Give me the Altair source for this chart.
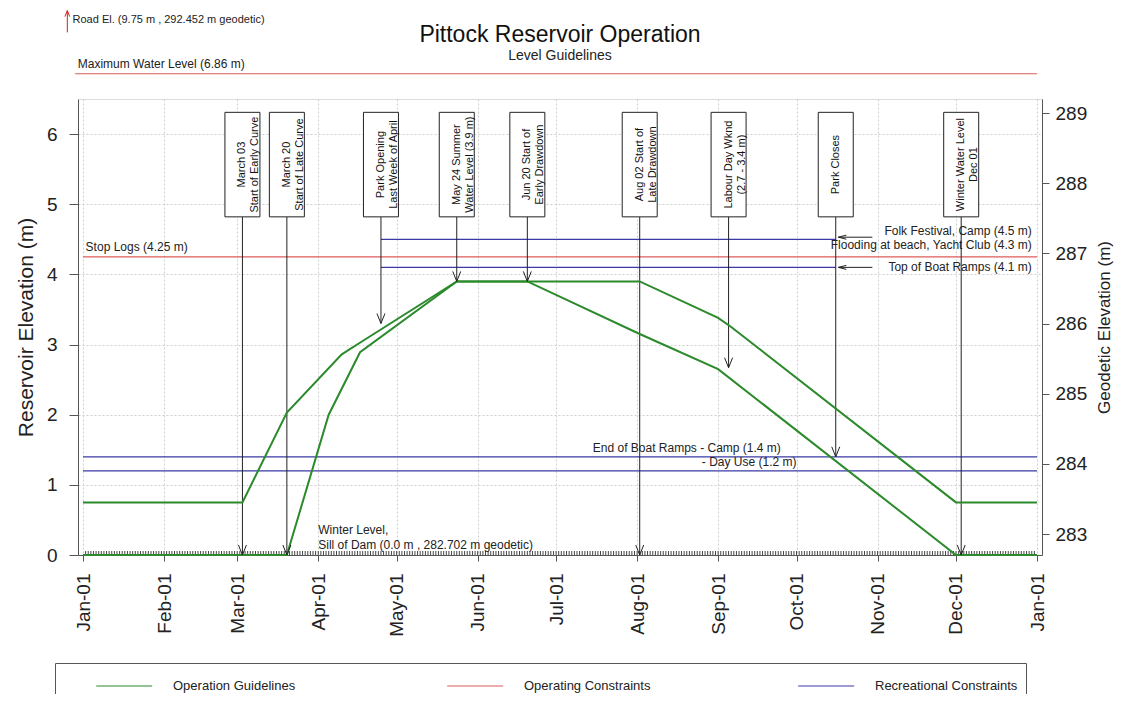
import altair as alt
import pandas as pd

# ---------------- data ----------------
early_dates = ["2001-01-01", "2001-03-03", "2001-03-20", "2001-04-10", "2001-04-18", "2001-05-24",
               "2001-08-02", "2001-09-01", "2001-09-06", "2001-12-01", "2002-01-01"]
early_levels = [0.75, 0.75, 2.03, 2.86, 3.05, 3.9, 3.9, 3.38, 3.25, 0.75, 0.75]

late_dates = ["2001-01-01", "2001-03-20", "2001-04-05", "2001-04-17", "2001-05-24", "2001-06-20",
              "2001-08-02", "2001-09-01", "2001-12-01", "2002-01-01"]
late_levels = [0.0, 0.0, 2.0, 2.89, 3.9, 3.9, 3.15, 2.65, 0.0, 0.0]

constraint_names = ["Stop Logs", "Maximum Water Level", "Folk Festival, Camp", "Top of Boat Ramps",
                    "End of Boat Ramps - Camp", "Day Use"]
constraint_levels = [4.25, 6.86, 4.5, 4.1, 1.4, 1.2]
constraint_kinds = ["Operating Constraints", "Operating Constraints", "Recreational Constraints",
                    "Recreational Constraints", "Recreational Constraints", "Recreational Constraints"]
constraint_start = ["2001-01-01", "2000-12-29", "2001-04-25", "2001-04-25", "2001-01-01", "2001-01-01"]
constraint_end = ["2002-01-01", "2002-01-01", "2001-10-16", "2001-10-16", "2002-01-01", "2002-01-01"]

event_dates = ["2001-03-03", "2001-03-20", "2001-04-25", "2001-05-24", "2001-06-20",
               "2001-08-02", "2001-09-05", "2001-10-16", "2001-12-03"]
event_targets = [0.0, 0.0, 3.3, 3.9, 3.9, 0.0, 2.67, 1.4, 0.0]
event_texts = ["March 03\nStart of Early Curve", "March 20\nStart of Late Curve",
               "Park Opening\nLast Week of April", "May 24 Summer\nWater Level (3.9 m)",
               "Jun 20 Start of\nEarly Drawdown", "Aug 02 Start of\nLate Drawdown",
               "Labour Day Wknd\n(2.7 - 3.4 m)", "Park Closes", "Winter Water Level\nDec 01"]

pointer_levels = [4.53, 4.1]
pointer_start = ["2001-10-17", "2001-10-17"]
pointer_end = ["2001-10-30", "2001-10-30"]

right_top_texts = ["Folk Festival, Camp (4.5 m)", "Flooding at beach, Yacht Club (4.3 m)"]
right_top_levels = [4.5, 4.3]
right_top_dates = ["2001-12-30", "2001-12-30"]
right_mid_texts = ["Top of Boat Ramps (4.1 m)"]
right_mid_levels = [4.1]
right_mid_dates = ["2001-12-30"]
inner_texts = ["End of Boat Ramps - Camp (1.4 m)", "- Day Use (1.2 m)"]
inner_levels = [1.4, 1.2]
inner_dates = ["2001-09-25", "2001-10-01"]
left_texts = ["Stop Logs (4.25 m)", "Maximum Water Level (6.86 m)"]
left_levels = [4.25, 6.86]
left_dates = ["2001-01-02", "2000-12-30"]
sill_text = ["Winter Level,\nSill of Dam (0.0 m , 282.702 m geodetic)"]
sill_level = [0.0]
sill_date = ["2001-04-01"]
road_text = ["Road El. (9.75 m , 292.452 m geodetic)"]
road_text_level = [7.63]
road_text_date = ["2000-12-28"]
road_arrow_date = ["2000-12-26"]
road_arrow_from = [7.45]
road_arrow_to = [7.76]

GEODETIC_OFFSET = 282.702
geo_ticks = [283, 284, 285, 286, 287, 288, 289]

LEGEND = ["Operation Guidelines", "Operating Constraints", "Recreational Constraints"]
COLORS = ["#2b8a2b", "#e05a5a", "#3a3aa6"]
FONT = "Liberation Sans, Arial, Helvetica, sans-serif"

# ---------------- tables ----------------
def ts(d):
    return d + "T00:00:00"

curves = pd.DataFrame({
    "date": [ts(d) for d in early_dates] + [ts(d) for d in late_dates],
    "level": early_levels + late_levels,
    "curve": ["Early"] * len(early_dates) + ["Late"] * len(late_dates),
    "kind": "Operation Guidelines",
})
constraints = pd.DataFrame({
    "name": constraint_names, "level": constraint_levels, "kind": constraint_kinds,
    "date": [ts(d) for d in constraint_start], "end": [ts(d) for d in constraint_end],
})
events = pd.DataFrame({"date": [ts(d) for d in event_dates], "target": event_targets, "text": event_texts})
pointers = pd.DataFrame({"level": pointer_levels, "date": [ts(d) for d in pointer_start],
                         "end": [ts(d) for d in pointer_end]})
def lab(texts, levels, dates):
    return pd.DataFrame({"text": texts, "level": levels, "date": [ts(d) for d in dates]})
rt = lab(right_top_texts, right_top_levels, right_top_dates)
rm = lab(right_mid_texts, right_mid_levels, right_mid_dates)
inn = lab(inner_texts, inner_levels, inner_dates)
lt = lab(left_texts, left_levels, left_dates)
sill = lab(sill_text, sill_level, sill_date)
road = lab(road_text, road_text_level, road_text_date)
road_arrow = pd.DataFrame({"date": [ts(d) for d in road_arrow_date], "level": road_arrow_from,
                           "top": road_arrow_to})
days = pd.DataFrame({"date": pd.date_range("2001-01-02", "2001-12-31", freq="D").strftime("%Y-%m-%dT00:00:00")})
geo = pd.DataFrame({"geo": geo_ticks})

# ---------------- encodings ----------------
xscale = alt.Scale(domain=[alt.DateTime(year=2001, month=1, date=1), alt.DateTime(year=2002, month=1, date=1)])
xaxis = alt.Axis(
    title=None, format="%b-%d", labelAngle=270, labelFontSize=19, labelColor="#222",
    values=[alt.DateTime(year=2001, month=m, date=1) for m in range(1, 13)] + [alt.DateTime(year=2002, month=1, date=1)],
    tickSize=6, tickColor="#555", labelPadding=12, grid=True, gridColor="#cfcfcf", gridDash=[2, 2],
    domainColor="#555",
)
yscale = alt.Scale(domain=[0, 6.5], nice=False, zero=False)
yaxis = alt.Axis(
    title="Reservoir Elevation (m)", titleFontSize=21, titleFontWeight="normal", titleColor="#222",
    titlePadding=10, values=[i * 0.5 for i in range(13)], format="d",
    labelExpr="datum.value % 1 === 0 ? datum.label : ''",
    tickOpacity={"condition": {"test": "datum.value % 1 === 0", "value": 1}, "value": 0},
    labelFontSize=19, labelColor="#222", tickSize=9, tickColor="#555", labelPadding=12,
    grid=True, gridColor="#cfcfcf", gridDash=[2, 2], domainColor="#555",
)
legend = alt.Legend(
    title=None, orient="none", legendX=-23, legendY=564, direction="horizontal", columns=3,
    symbolType="M 1.3 0 H 5.3", symbolSize=784, symbolStrokeWidth=1.2, labelFontSize=13, labelFont=FONT,
    labelOffset=80, columnPadding=98, gridAlign="all", padding=8, strokeColor="#555",
    fillColor="white", labelLimit=400, labelColor="#222",
)
color = alt.Color("kind:N", scale=alt.Scale(domain=LEGEND, range=COLORS), legend=legend)

def X(f="date"):
    return alt.X(f + ":T", scale=xscale, axis=xaxis)

def Y(f="level"):
    return alt.Y(f + ":Q", scale=yscale, axis=yaxis)

# ---------------- layers ----------------
minor_ticks = alt.Chart(days).mark_rule(color="#444", strokeWidth=1).encode(
    x=X(), y=alt.value(456), y2=alt.value(452))

constraint_rules = alt.Chart(constraints).mark_rule(strokeWidth=1.2, clip=False).encode(
    x=X(), x2="end:T", y=Y(), color=color)

curve_lines = alt.Chart(curves).mark_line(strokeWidth=2, clip=False).encode(
    x=X(), y=Y(), detail="curve:N", color=color)

ev = alt.Chart(events).transform_calculate(top="6.31", bottom="4.82", mid="5.565")
stems = ev.mark_rule(color="#222", strokeWidth=1).encode(x=X(), y=Y("bottom"), y2="target:Q")
heads = ev.mark_point(shape="M -0.8 -2 L 0 0 L 0.8 -2", size=100, filled=False, color="#222",
                      strokeWidth=1, opacity=1).encode(x=X(), y=Y("target"))
boxes = ev.mark_bar(width=35, fill="white", stroke="#222", strokeWidth=1).encode(
    x=X(), y=Y("top"), y2="bottom:Q")
box_text = ev.mark_text(angle=270, align="center", baseline="middle", fontSize=11, lineHeight=13,
                        lineBreak="\n", font=FONT, color="#111").encode(x=X(), y=Y("mid"), text="text:N")

pointer_lines = alt.Chart(pointers).mark_rule(color="#222", strokeWidth=1).encode(
    x=X(), x2="end:T", y=Y())
pointer_heads = alt.Chart(pointers).mark_point(shape="M 2 -0.5 L 0 0 L 2 0.5", size=64, filled=False,
                                               color="#222", strokeWidth=1, opacity=1).encode(x=X(), y=Y())

txt = dict(font=FONT, fontSize=12, color="#222", clip=False)
t_rt = alt.Chart(rt).mark_text(align="right", baseline="bottom", dy=-1, **txt).encode(x=X(), y=Y(), text="text:N")
t_rm = alt.Chart(rm).mark_text(align="right", baseline="middle", **txt).encode(x=X(), y=Y(), text="text:N")
t_in = alt.Chart(inn).mark_text(align="right", baseline="bottom", dy=-2, **txt).encode(x=X(), y=Y(), text="text:N")
t_lt = alt.Chart(lt).mark_text(align="left", baseline="bottom", dy=-3, **txt).encode(x=X(), y=Y(), text="text:N")
t_sill = alt.Chart(sill).mark_text(align="left", baseline="bottom", dy=-18, lineBreak="\n", lineHeight=15,
                                   **txt).encode(x=X(), y=Y(), text="text:N")
t_road = alt.Chart(road).mark_text(align="left", baseline="middle", font=FONT, fontSize=11,
                                   color="#222").encode(x=X(), y=Y(), text="text:N")
road_rule = alt.Chart(road_arrow).mark_rule(color="#d62020", strokeWidth=1).encode(x=X(), y=Y(), y2="top:Q")
road_head = alt.Chart(road_arrow).mark_point(shape="M -0.8 2 L 0 0 L 0.8 2", size=36, filled=False,
                                             color="#d62020", strokeWidth=1, opacity=1).encode(x=X(), y=Y("top"))

main = alt.layer(minor_ticks, constraint_rules, stems, curve_lines, heads, boxes, box_text,
                 pointer_lines, pointer_heads, t_rt, t_rm, t_in, t_lt, t_sill, t_road, road_rule, road_head)

geo_layer = alt.Chart(geo).mark_point(opacity=0).encode(
    y=alt.Y("geo:Q", scale=alt.Scale(domain=[GEODETIC_OFFSET, GEODETIC_OFFSET + 6.5], nice=False, zero=False),
            axis=alt.Axis(orient="right", values=geo_ticks, title="Geodetic Elevation (m)", titleFontSize=17,
                          titleFontWeight="normal", titleColor="#222", titlePadding=10, titleAngle=270,
                          titleBaseline="top", labelFontSize=19, labelColor="#222", tickSize=7,
                          tickColor="#555", labelPadding=6, grid=False, domainColor="#555"))
)

chart = alt.layer(main, geo_layer).resolve_scale(y="independent").properties(
    width=964, height=456,
    autosize=alt.AutoSizeParams(type="none"),
    padding={"left": 70, "top": 91, "right": 80, "bottom": 139},
    title=alt.TitleParams("Pittock Reservoir Operation", subtitle="Level Guidelines", anchor="middle",
                          fontSize=23, fontWeight="normal", font=FONT, color="#111",
                          subtitleFontSize=14, subtitleFont=FONT, subtitleColor="#222", subtitlePadding=2,
                          offset=-54),
).configure_view(stroke="#555", strokeWidth=1).configure(background="white")

chart.save("out.html", embed_options={"renderer": "svg", "actions": False})
